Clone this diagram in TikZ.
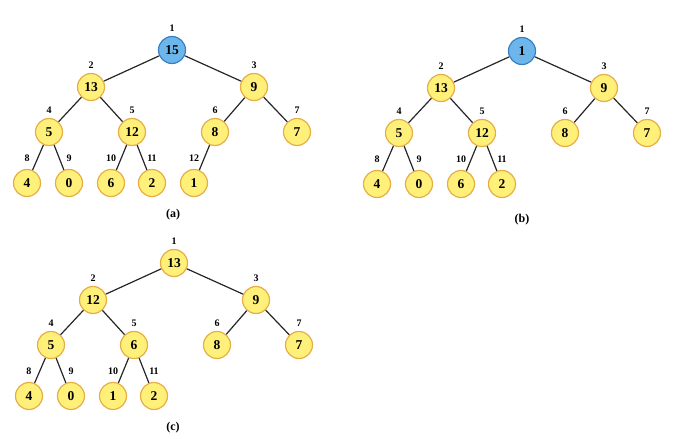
\documentclass[tikz,border=0pt]{standalone}
\usepackage{fontspec}
\setmainfont{Liberation Serif}
\definecolor{hyfill}{HTML}{FFF07A}
\definecolor{hyline}{HTML}{E6AE45}
\definecolor{hbfill}{HTML}{6CB6EC}
\definecolor{hbline}{HTML}{3B7FC3}
\tikzset{
  hnode/.style={circle, draw=hyline, fill=hyfill, line width=1.2pt, minimum size=27pt, inner sep=0pt, font=\bfseries\fontsize{13.5}{13.5}\selectfont},
  hroot/.style={hnode, draw=hbline, fill=hbfill},
  idx/.style={font=\bfseries\fontsize{10}{10}\selectfont, inner sep=0pt},
  hedge/.style={line width=1.2pt, black!85},
  capt/.style={font=\bfseries\fontsize{12}{12}\selectfont, inner sep=0pt}
}
% \hn{name}{x}{y}{value}{index}{style}{label distance}
\newcommand\hn[7]{\node[#6, label={[idx, label distance=#7]above:#5}] (#1) at (#2,#3) {#4};}
\begin{document}
\begin{tikzpicture}[x=1pt,y=-1pt]
\useasboundingbox (0,0) rectangle (680,439);
% ---- tree (a)
\begin{scope}
\hn{a1}{172}{50}{15}{1}{hroot}{4.5pt}
\hn{a2}{91}{87}{13}{2}{hnode}{4.5pt}
\hn{a3}{254}{87}{9}{3}{hnode}{4.5pt}
\hn{a4}{49}{132}{5}{4}{hnode}{4.5pt}
\hn{a5}{132}{132}{12}{5}{hnode}{4.5pt}
\hn{a6}{215}{132}{8}{6}{hnode}{4.5pt}
\hn{a7}{297}{132}{7}{7}{hnode}{4.5pt}
\hn{a8}{27}{183}{4}{8}{hnode}{7.5pt}
\hn{a9}{69}{183}{0}{9}{hnode}{7.5pt}
\hn{a10}{111}{183}{6}{10}{hnode}{7.5pt}
\hn{a11}{152}{183}{2}{11}{hnode}{7.5pt}
\hn{a12}{194}{183}{1}{12}{hnode}{7.5pt}
\draw[hedge] (a1)--(a2) (a1)--(a3) (a2)--(a4) (a2)--(a5) (a3)--(a6) (a3)--(a7)
  (a4)--(a8) (a4)--(a9) (a5)--(a10) (a5)--(a11) (a6)--(a12);
\node[capt] (capa) at (173,215) {(a)};
\end{scope}
% ---- tree (b)
\begin{scope}[shift={(350,1)}]
\hn{b1}{172}{50}{1}{1}{hroot}{4.5pt}
\hn{b2}{91}{87}{13}{2}{hnode}{4.5pt}
\hn{b3}{254}{87}{9}{3}{hnode}{4.5pt}
\hn{b4}{49}{132}{5}{4}{hnode}{4.5pt}
\hn{b5}{132}{132}{12}{5}{hnode}{4.5pt}
\hn{b6}{215}{132}{8}{6}{hnode}{4.5pt}
\hn{b7}{297}{132}{7}{7}{hnode}{4.5pt}
\hn{b8}{27}{183}{4}{8}{hnode}{7.5pt}
\hn{b9}{69}{183}{0}{9}{hnode}{7.5pt}
\hn{b10}{111}{183}{6}{10}{hnode}{7.5pt}
\hn{b11}{152}{183}{2}{11}{hnode}{7.5pt}
\draw[hedge] (b1)--(b2) (b1)--(b3) (b2)--(b4) (b2)--(b5) (b3)--(b6) (b3)--(b7)
  (b4)--(b8) (b4)--(b9) (b5)--(b10) (b5)--(b11);
\node[capt] (capb) at (172,219) {(b)};
\end{scope}
% ---- tree (c)
\begin{scope}[shift={(2,213)}]
\hn{c1}{172}{50}{13}{1}{hnode}{4.5pt}
\hn{c2}{91}{87}{12}{2}{hnode}{4.5pt}
\hn{c3}{254}{87}{9}{3}{hnode}{4.5pt}
\hn{c4}{49}{132}{5}{4}{hnode}{4.5pt}
\hn{c5}{132}{132}{6}{5}{hnode}{4.5pt}
\hn{c6}{215}{132}{8}{6}{hnode}{4.5pt}
\hn{c7}{297}{132}{7}{7}{hnode}{4.5pt}
\hn{c8}{27}{183}{4}{8}{hnode}{7.5pt}
\hn{c9}{69}{183}{0}{9}{hnode}{7.5pt}
\hn{c10}{111}{183}{1}{10}{hnode}{7.5pt}
\hn{c11}{152}{183}{2}{11}{hnode}{7.5pt}
\draw[hedge] (c1)--(c2) (c1)--(c3) (c2)--(c4) (c2)--(c5) (c3)--(c6) (c3)--(c7)
  (c4)--(c8) (c4)--(c9) (c5)--(c10) (c5)--(c11);
\node[capt] (capc) at (171,215) {(c)};
\end{scope}
\end{tikzpicture}
\end{document}
